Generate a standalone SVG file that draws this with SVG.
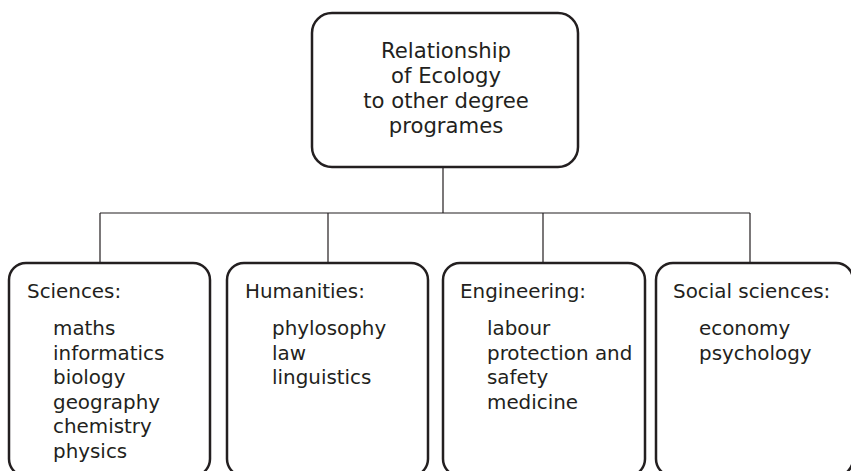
<svg xmlns="http://www.w3.org/2000/svg" width="851" height="471" viewBox="0 0 851 471">
<style>
.box{fill:#fff;stroke:#231f20;stroke-width:2.5}
.conn{fill:none;stroke:#231f20;stroke-width:1.2}
text{font-family:"DejaVu Sans","Open Sans",sans-serif;font-size:19.9px;fill:#231f20}
.c{text-anchor:middle;font-size:21.2px}
</style>
<rect width="851" height="471" fill="#fff"/>
<g id="connectors">
<path class="conn" d="M443,167V213M100,213H750M100,213V263M328,213V263M543,213V263M750,213V263"/>
</g>
<g id="root">
<rect class="box" x="312" y="13" width="266" height="154" rx="20"/>
<text class="c" y="58"><tspan x="446">Relationship</tspan><tspan x="446" dy="25">of Ecology</tspan><tspan x="446" dy="25">to other degree</tspan><tspan x="446" dy="24.7">programes</tspan></text>
</g>
<g id="sciences">
<rect class="box" x="9" y="263" width="201" height="213" rx="17"/>
<text x="27" y="298">Sciences:</text>
<text y="335"><tspan x="53">maths</tspan><tspan x="53" dy="24.6">informatics</tspan><tspan x="53" dy="24.6">biology</tspan><tspan x="53" dy="24.6">geography</tspan><tspan x="53" dy="24.6">chemistry</tspan><tspan x="53" dy="24.6">physics</tspan></text>
</g>
<g id="humanities">
<rect class="box" x="227" y="263" width="201" height="213" rx="17"/>
<text x="245" y="298">Humanities:</text>
<text y="335"><tspan x="272">phylosophy</tspan><tspan x="272" dy="24.6">law</tspan><tspan x="272" dy="24.6">linguistics</tspan></text>
</g>
<g id="engineering">
<rect class="box" x="443" y="263" width="202" height="213" rx="17"/>
<text x="460" y="298">Engineering:</text>
<text y="335"><tspan x="487">labour</tspan><tspan x="487" dy="24.6">protection and</tspan><tspan x="487" dy="24.6">safety</tspan><tspan x="487" dy="24.6">medicine</tspan></text>
</g>
<g id="social">
<rect class="box" x="656" y="263" width="197" height="213" rx="17"/>
<text x="673" y="298">Social sciences:</text>
<text y="335"><tspan x="699">economy</tspan><tspan x="699" dy="24.6">psychology</tspan></text>
</g>
</svg>
